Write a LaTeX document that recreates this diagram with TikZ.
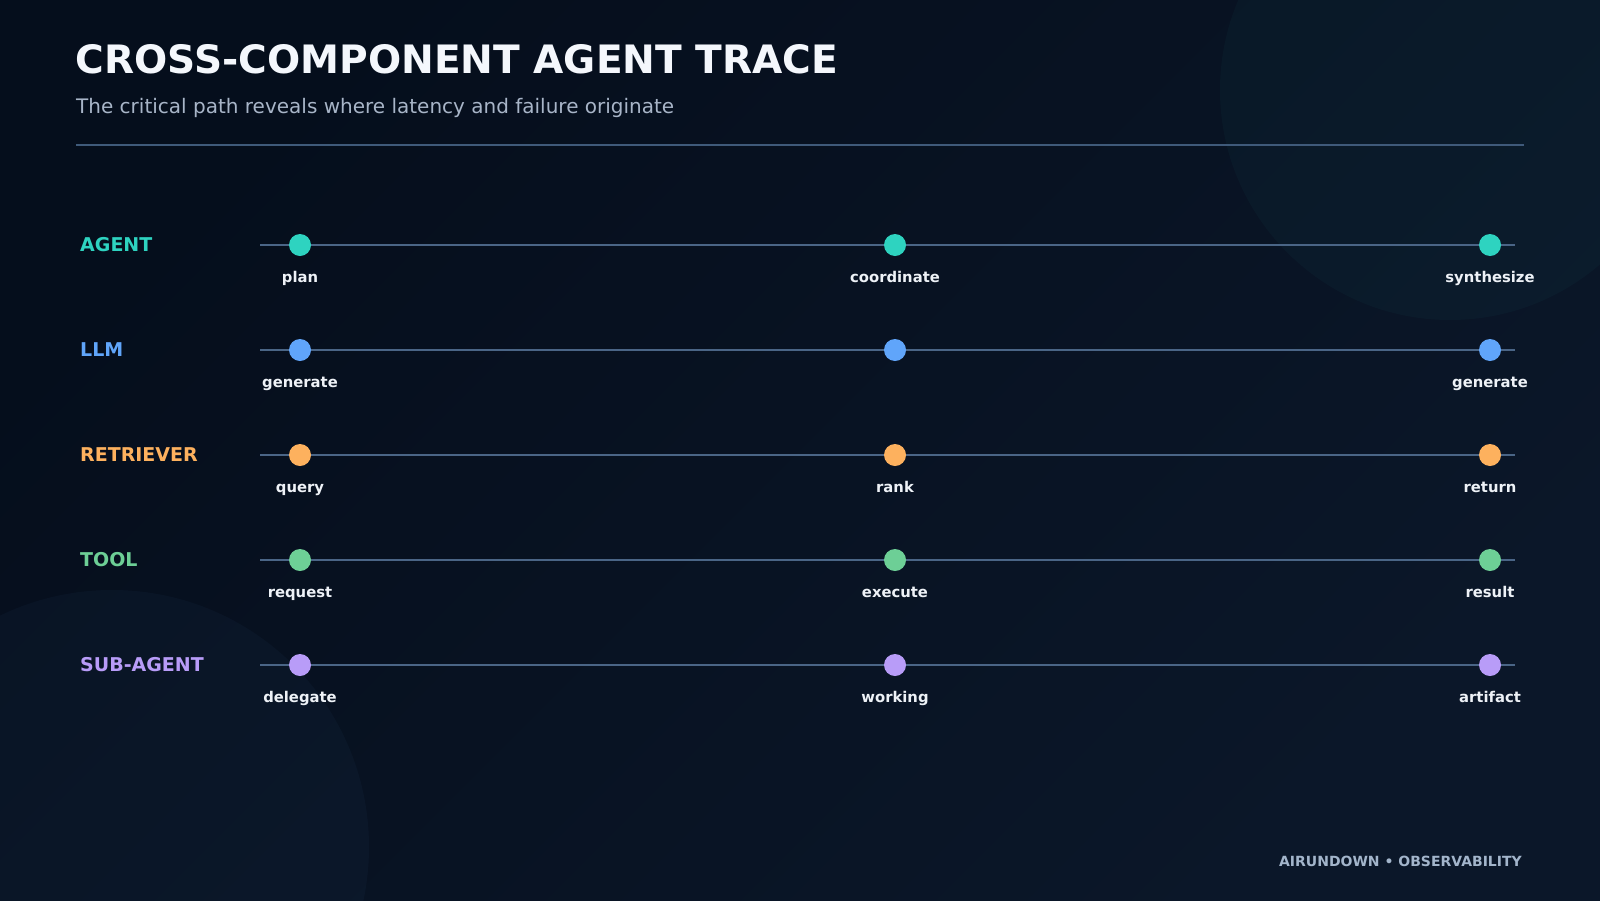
\documentclass[tikz,border=0pt]{standalone}
\usepackage{fontspec}
\setmainfont{DejaVu Sans}
\definecolor{bgdark}{HTML}{050E1C}
\definecolor{bglight}{HTML}{0B1729}
\definecolor{cteal}{HTML}{2ED3C0}
\definecolor{cblue}{HTML}{60A5FA}
\definecolor{corange}{HTML}{FDB15E}
\definecolor{cgreen}{HTML}{6DCF96}
\definecolor{cpurple}{HTML}{B89CF8}
\definecolor{ctitle}{HTML}{F4F7FC}
\definecolor{csub}{HTML}{A8B5C8}
\definecolor{cstep}{HTML}{EEF2F7}
\definecolor{cfoot}{HTML}{A3B5CB}
\definecolor{csep}{HTML}{3F5A7A}
\definecolor{ctrack}{HTML}{4A6586}
\tikzset{
  titletext/.style={anchor=base west, inner sep=0, text=ctitle, font=\fontsize{39.1}{46}\selectfont\bfseries},
  subtext/.style={anchor=base west, inner sep=0, text=csub, font=\fontsize{20}{24}\selectfont},
  rowlabel/.style={anchor=base west, inner sep=0, font=\fontsize{19}{22}\selectfont\bfseries},
  steplabel/.style={anchor=base, inner sep=0, text=cstep, font=\fontsize{14.8}{18}\selectfont\bfseries},
  footlabel/.style={anchor=base east, inner sep=0, text=cfoot, font=\fontsize{14}{17}\selectfont\bfseries},
  dot/.style={circle, inner sep=0, minimum size=22pt, fill=#1},
  trackline/.style={draw=ctrack, line width=1.6pt},
  sepline/.style={draw=csep, line width=1.8pt},
}
\begin{document}
\begin{tikzpicture}[x=1pt,y=-1pt]
\useasboundingbox (0,0) rectangle (1600,900);
\shade[top color=bgdark, bottom color=bglight, shading angle=45] (0,0) rectangle (1600,900);
\begin{scope}
\clip (0,0) rectangle (1600,900);
\fill[cteal, opacity=0.035] (1450,90) circle (230);
\fill[cblue, opacity=0.035] (112,847) circle (257);
\end{scope}
\node[titletext] (title) at (75.5,73) {CROSS-COMPONENT AGENT TRACE};
\node[subtext] (sub) at (76,113) {The critical path reveals where latency and failure originate};
\coordinate (sepL) at (76,145);
\coordinate (sepR) at (1524,145);
\draw[sepline] (sepL) -- (sepR);
% rows
\foreach \name/\lab/\col/\y/\sa/\sb/\sc in {
  ag/AGENT/cteal/245/plan/coordinate/synthesize,
  ll/LLM/cblue/350/generate//generate,
  re/RETRIEVER/corange/455/query/rank/return,
  to/TOOL/cgreen/560/request/execute/result,
  su/SUB-AGENT/cpurple/665/delegate/working/artifact}{
  \node[rowlabel, text=\col] (\name-lab) at (80,\y+6) {\lab};
  \coordinate (\name-s) at (260,\y);
  \coordinate (\name-e) at (1515,\y);
  \draw[trackline] (\name-s) -- (\name-e);
  \node[dot=\col] (\name-1) at (300,\y) {};
  \node[dot=\col] (\name-2) at (895,\y) {};
  \node[dot=\col] (\name-3) at (1490,\y) {};
  \node[steplabel] (\name-1t) at (300,\y+37) {\sa};
  \node[steplabel] (\name-2t) at (895,\y+37) {\sb};
  \node[steplabel] (\name-3t) at (1490,\y+37) {\sc};
}
\node[footlabel] (foot) at (1522,866) {AIRUNDOWN • OBSERVABILITY};
\end{tikzpicture}
\end{document}
